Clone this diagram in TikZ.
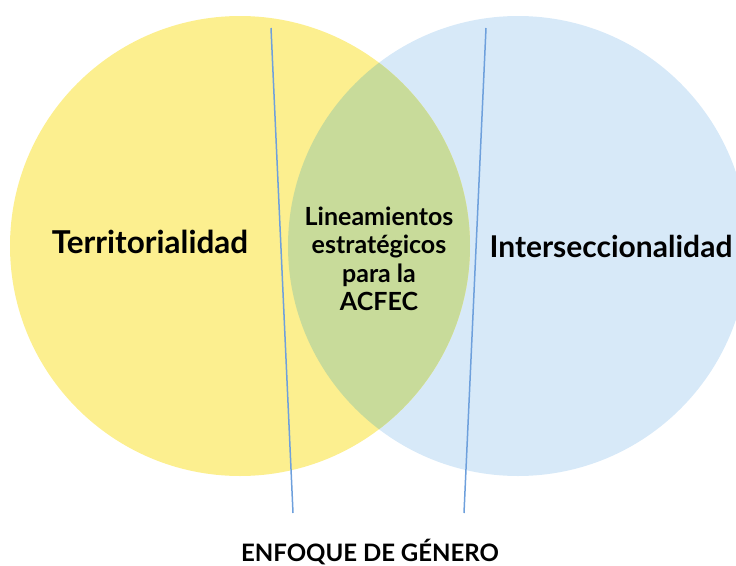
\documentclass[tikz,border=0pt]{standalone}
\usepackage{fontspec}
\setmainfont{Lato}
\definecolor{cyellow}{RGB}{252,239,143}
\definecolor{cblue}{RGB}{215,233,248}
\definecolor{cgreen}{RGB}{200,219,154}
\definecolor{cline}{RGB}{110,160,220}
\begin{document}
\begin{tikzpicture}[x=1pt,y=-1pt,
  bigtext/.style={font=\bfseries\fontsize{31.5}{36}\selectfont, anchor=base},
  midtext/.style={font=\bfseries\fontsize{25}{28.5}\selectfont, align=center},
  captext/.style={font=\bfseries\fontsize{24}{28}\selectfont, anchor=base},
  axisline/.style={draw=cline, line width=1.5pt}]
\useasboundingbox (0,0) rectangle (736,565);
\fill[cblue] (518,246) circle (230pt);
\fill[cyellow] (240,246) circle (230pt);
\begin{scope}
  \clip (518,246) circle (230pt);
  \fill[cgreen] (240,246) circle (230pt);
\end{scope}
\coordinate (l1a) at (271,28);
\coordinate (l1b) at (293,513);
\coordinate (l2a) at (486,28);
\coordinate (l2b) at (464,513);
\draw[axisline] (l1a) -- (l1b);
\draw[axisline] (l2a) -- (l2b);
\node[bigtext] (terr) at (150,253) {Territorialidad};
\node[bigtext, font=\bfseries\fontsize{30}{36}\selectfont] (inter) at (611,257) {Interseccionalidad};
\node[midtext] (mid) at (379,259) {Lineamientos\\estratégicos\\para la\\ACFEC};
\node[captext] (enf) at (370,561) {ENFOQUE DE GÉNERO};
\end{tikzpicture}
\end{document}
